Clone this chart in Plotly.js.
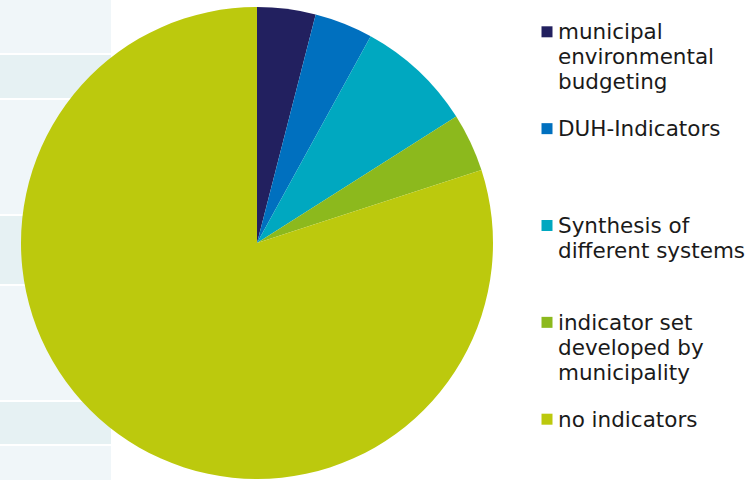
<!DOCTYPE html>
<html>
<head>
<meta charset="utf-8">
<script src="https://cdn.plot.ly/plotly-3.0.1.min.js"></script>
<style>html,body{margin:0;padding:0;background:#fff;}#chart{width:756px;height:480px;}</style>
</head>
<body>
<div id="chart"></div>
<script>
// Data
const categories = ["municipal<br>environmental<br>budgeting", "DUH-Indicators", "Synthesis of<br>different systems", "indicator set<br>developed by<br>municipality", "no indicators"];
const values = [1, 1, 2, 1, 20];
const colors = ["#22205f", "#0070bf", "#00a8c0", "#8cb91d", "#bcc90d"];

const W = 756, H = 480;
const px = x => x / W;
const py = y => 1 - y / H;

// Background stripe rows (decorative, left side)
const stripeRows = [[0, 53, "#f0f6f9"], [55, 98, "#e6f1f3"], [100, 214, "#f0f6f9"], [216, 284, "#e6f1f3"], [286, 400, "#f0f6f9"], [402, 444, "#e6f1f3"], [446, 480, "#f0f6f9"]];

const shapes = stripeRows.map(r => ({
  type: "rect", xref: "paper", yref: "paper", layer: "below",
  x0: 0, x1: px(111), y0: py(r[1]), y1: py(r[0]),
  fillcolor: r[2], line: {width: 0}
}));

const annotations = [];
const legendTop = 39.3, itemGap = 96.85, lineGap = 25;
categories.forEach((c, i) => {
  const base = legendTop + i * itemGap;
  shapes.push({
    type: "rect", xref: "paper", yref: "paper", layer: "above",
    x0: px(541.5), x1: px(552.5), y0: py(base - 2), y1: py(base - 13),
    fillcolor: colors[i], line: {width: 0}
  });
  c.split("<br>").forEach((ln, j) => {
    annotations.push({
      xref: "paper", yref: "paper", x: px(556), y: py(base + j * lineGap - 7.5),
      xanchor: "left", yanchor: "middle", showarrow: false, text: ln,
      font: {family: "DejaVu Sans, Verdana, sans-serif", size: 21.5, color: "#1a1a1a"}
    });
  });
});

const data = [{
  type: "pie",
  labels: categories,
  values: values,
  sort: false,
  direction: "clockwise",
  rotation: 0,
  marker: {colors: colors, line: {width: 0}},
  textinfo: "none",
  hoverinfo: "label+value",
  domain: {x: [px(21), px(493)], y: [py(479), py(7)]}
}];

const layout = {
  width: W, height: H,
  margin: {l: 0, r: 0, t: 0, b: 0},
  paper_bgcolor: "#ffffff",
  showlegend: false,
  shapes: shapes,
  annotations: annotations
};

Plotly.newPlot("chart", data, layout, {displayModeBar: false, staticPlot: true});
</script>
</body>
</html>
